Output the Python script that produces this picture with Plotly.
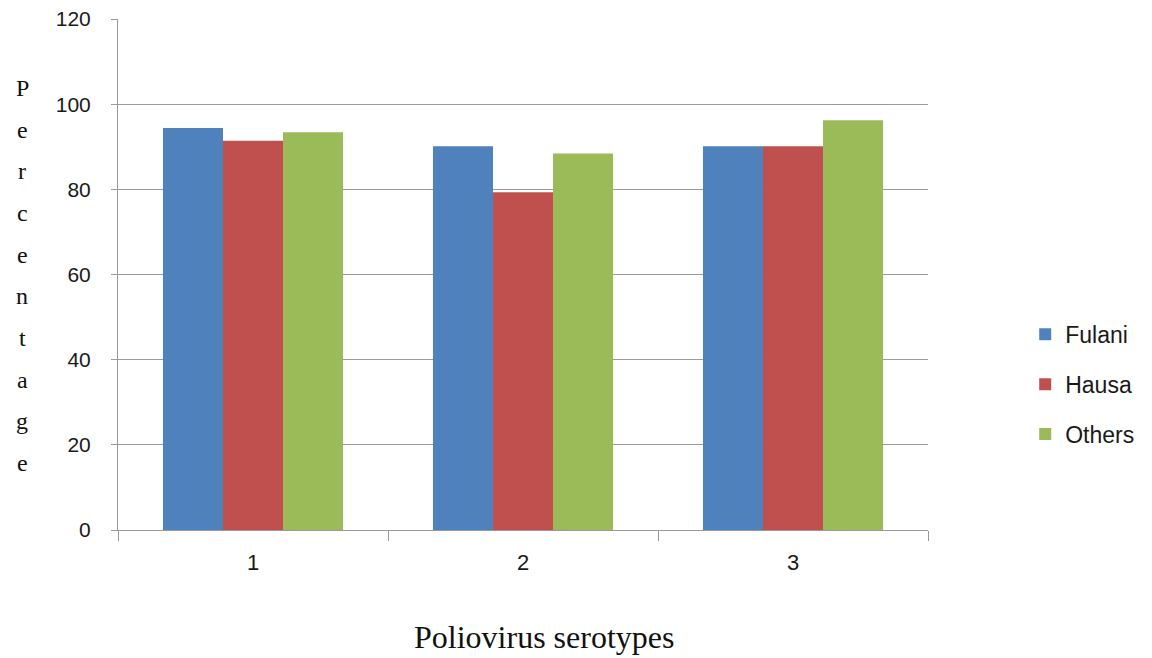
import plotly.graph_objects as go

# Poliovirus seroprevalence by ethnic group
serotypes = ["1", "2", "3"]
fulani = [94.4, 90.1, 90.1]
hausa = [91.4, 79.3, 90.1]
others = [93.4, 88.4, 96.2]

series = [
    ("Fulani", fulani, "#4F81BD"),
    ("Hausa", hausa, "#C0504D"),
    ("Others", others, "#9BBB59"),
]

y_ticks = [0, 20, 40, 60, 80, 100, 120]
y_title = "Percentage"

fig = go.Figure()
for name, vals, color in series:
    fig.add_trace(go.Bar(
        x=serotypes, y=vals, name=name, legendgroup=name,
        marker=dict(color=color, line=dict(width=0)),
    ))

axis_grey = "#9a9a9a"
fig.update_layout(
    width=1152, height=658,
    margin=dict(l=118, r=224, t=19, b=128),
    paper_bgcolor="white", plot_bgcolor="white",
    barmode="group", bargap=0.333, bargroupgap=0,
    font=dict(family="Liberation Sans, Arial, sans-serif", color="#1a1a1a"),
    legend=dict(
        x=1.12, y=0.285, xanchor="left", yanchor="middle",
        font=dict(size=23, family="Liberation Sans, Arial, sans-serif"),
        tracegroupgap=17, itemsizing="constant",
    ),
    showlegend=True,
)

fig.update_xaxes(
    type="category", tickson="boundaries",
    ticks="outside", ticklen=10, tickcolor=axis_grey, tickwidth=1,
    showline=True, linecolor=axis_grey, linewidth=1,
    showgrid=False, tickfont=dict(size=22), ticklabelstandoff=13,
    automargin=False,
)
fig.update_yaxes(
    range=[0, 120], tickvals=y_ticks,
    ticks="outside", ticklen=6, tickcolor=axis_grey, tickwidth=1,
    showline=True, linecolor=axis_grey, linewidth=1,
    showgrid=True, gridcolor=axis_grey, gridwidth=1,
    tickfont=dict(size=21), zeroline=False, ticklabelstandoff=16,
    automargin=False,
)

# Vertical, letter-by-letter y-axis title
n = len(y_title)
top_px, bottom_px = 88, 463
for k, ch in enumerate(y_title):
    ypx = top_px + (bottom_px - top_px) * k / (n - 1)
    fig.add_annotation(
        text=ch, xref="paper", yref="paper",
        x=(22 - 118) / 810, y=(530 - ypx) / 511,
        xanchor="center", yanchor="middle", showarrow=False,
        font=dict(size=24, family="Liberation Serif, Times New Roman, serif", color="#111111"),
    )

fig.add_annotation(
    text="Poliovirus serotypes", xref="paper", yref="paper",
    x=(544 - 118) / 810, y=(530 - 637) / 511, xanchor="center", yanchor="middle",
    showarrow=False,
    font=dict(size=32, family="Liberation Serif, Times New Roman, serif", color="#111111"),
)

fig.write_html("out.html")
